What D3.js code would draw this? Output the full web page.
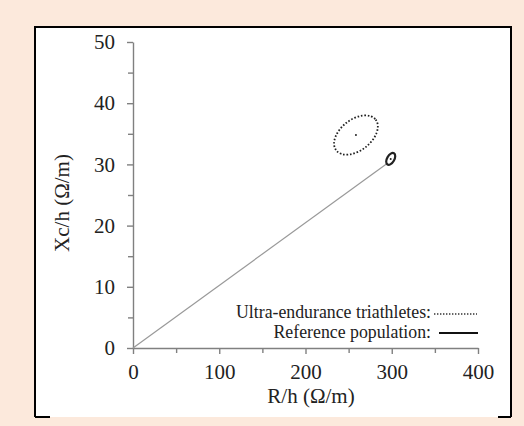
<!DOCTYPE html>
<html><head><meta charset="utf-8">
<script src="https://cdn.jsdelivr.net/npm/d3@7"></script>
<style>html,body{margin:0;padding:0;background:#fce9dc;}svg{display:block;}</style>
</head><body>
<script>
// ---- data ----
const xTicks = [0, 100, 200, 300, 400];
const yTicks = [0, 10, 20, 30, 40, 50];
const xMinor = [50, 150, 250, 350];
const yMinor = [5, 15, 25, 35, 45];
const vectorStart = [0, 0];
const vectorEnd = [295, 30.2];
const groups = ["Ultra-endurance triathletes", "Reference population"];
const groupMeanR = [258.5, 298.8];
const groupMeanXc = [34.8, 30.9];
const legendLabels = ["Ultra-endurance triathletes:", "Reference population:"];

const W = 524, H = 426;
const svg = d3.select("body").append("svg").attr("width", W).attr("height", H);
svg.append("rect").attr("width", W).attr("height", H).attr("fill", "#fce9dc");

// panel
const px0 = 35, py0 = 27, px1 = 511, py1 = 417;
svg.append("rect").attr("x", px0).attr("y", py0).attr("width", px1 - px0).attr("height", py1 - py0).attr("fill", "#fff");
svg.append("path").attr("d", `M${px0},${py1}V${py0}H${px1}V${py1}`).attr("fill", "none").attr("stroke", "#000").attr("stroke-width", 2);
svg.append("path").attr("d", `M${px0},${py1}H${px0+15}M${px1-13},${py1}H${px1}`).attr("stroke", "#000").attr("stroke-width", 2);

const x = d3.scaleLinear().domain([0, 400]).range([133, 478]);
const y = d3.scaleLinear().domain([0, 50]).range([348, 42]);
const axisColor = "#808080";
const font = "'Liberation Serif','Times New Roman',serif";
const textColor = "#222";

// x axis
const gx = svg.append("g").attr("transform", `translate(0,${y(0)})`)
  .call(d3.axisBottom(x).tickValues(xTicks).tickSize(6).tickSizeOuter(0).tickPadding(7));
const gxm = svg.append("g").attr("transform", `translate(0,${y(0)})`)
  .call(d3.axisBottom(x).tickValues(xMinor).tickSize(5).tickFormat(""));
gxm.select(".domain").remove();
// y axis
const gy = svg.append("g").attr("transform", `translate(${x(0)},0)`)
  .call(d3.axisLeft(y).tickValues(yTicks).tickSize(6).tickSizeOuter(0).tickPadding(12));
const gym = svg.append("g").attr("transform", `translate(${x(0)},0)`)
  .call(d3.axisLeft(y).tickValues(yMinor).tickSize(5).tickFormat(""));
gym.select(".domain").remove();
[gx, gy, gxm, gym].forEach(g => {
  g.selectAll("path,line").attr("stroke", axisColor).attr("stroke-width", 1.4);
  g.selectAll("text").attr("font-family", font).attr("font-size", 21).attr("fill", textColor);
});
gx.selectAll("text").attr("dy", "0.85em");

// titles
svg.append("text").attr("x", 311).attr("y", 403).attr("text-anchor", "middle")
  .attr("font-family", font).attr("font-size", 21).attr("fill", textColor).text("R/h (Ω/m)");
svg.append("text").attr("transform", "translate(69,203) rotate(-90)").attr("text-anchor", "middle")
  .attr("font-family", font).attr("font-size", 21).attr("fill", textColor).text("Xc/h (Ω/m)");

// vector line
svg.append("line").attr("x1", x(vectorStart[0])).attr("y1", y(vectorStart[1]))
  .attr("x2", x(vectorEnd[0])).attr("y2", y(vectorEnd[1]))
  .attr("stroke", "#999").attr("stroke-width", 1.2);

// ellipses
const shapes = [
  {a: 25, b: 15.5, ang: -38, dash: "1.6,1.8", sw: 1.8},
  {a: 6.5, b: 3.6, ang: -60, dash: null, sw: 2.2}
];
groups.forEach((gname, i) => {
  const s = shapes[i];
  const e = svg.append("ellipse").attr("cx", 0).attr("cy", 0).attr("rx", s.a).attr("ry", s.b)
    .attr("transform", `translate(${x(groupMeanR[i])},${y(groupMeanXc[i])}) rotate(${s.ang})`)
    .attr("fill", "none").attr("stroke", "#222").attr("stroke-width", s.sw);
  if (s.dash) e.attr("stroke-dasharray", s.dash);
  svg.append("circle").attr("cx", x(groupMeanR[i])).attr("cy", y(groupMeanXc[i])).attr("r", 1)
    .attr("fill", "#222");
});

// legend
const legY = [318, 338];
legendLabels.forEach((t, i) => {
  svg.append("text").attr("x", 431).attr("y", legY[i]).attr("text-anchor", "end")
    .attr("font-family", font).attr("font-size", 17.8).attr("fill", textColor).text(t);
});
svg.append("line").attr("x1", 434).attr("x2", 477).attr("y1", 314).attr("y2", 314)
  .attr("stroke", "#333").attr("stroke-width", 1.6).attr("stroke-dasharray", "1.4,1.6");
svg.append("line").attr("x1", 439).attr("x2", 478).attr("y1", 333).attr("y2", 333)
  .attr("stroke", "#111").attr("stroke-width", 2.2);
</script>
</body></html>
